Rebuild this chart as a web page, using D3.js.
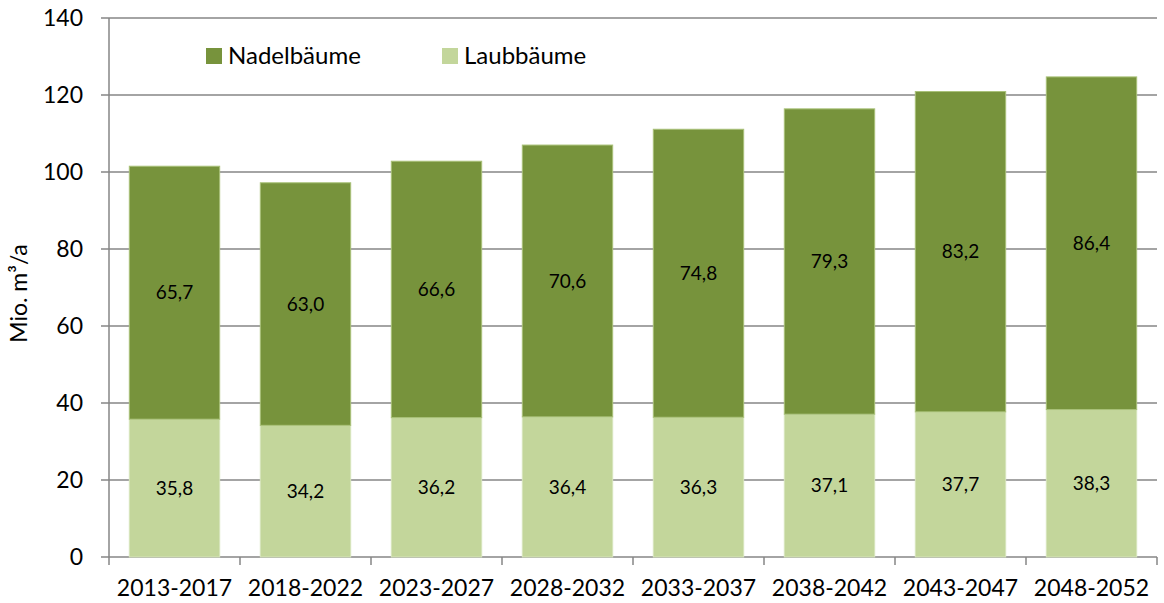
<!DOCTYPE html>
<html>
<head>
<meta charset="utf-8">
<script src="https://cdn.jsdelivr.net/npm/d3@7"></script>
<style>
  body { margin: 0; background: #fff; }
  text { font-family: Lato, 'Open Sans', sans-serif; fill: #000; }
</style>
</head>
<body>
<div id="chart"></div>
<script>
// data
var periods = ['2013-2017', '2018-2022', '2023-2027', '2028-2032', '2033-2037', '2038-2042', '2043-2047', '2048-2052']
var laubbaeume = [35.8, 34.2, 36.2, 36.4, 36.3, 37.1, 37.7, 38.3]
var nadelbaeume = [65.7, 63.0, 66.6, 70.6, 74.8, 79.3, 83.2, 86.4]
var yTicks = [0, 20, 40, 60, 80, 100, 120, 140]
var seriesNames = ['Nadelbäume', 'Laubbäume']
var colors = { 'Nadelbäume': '#77933c', 'Laubbäume': '#c3d69b' }

var margin = { top: 18, left: 109, right: 7, bottom: 46 }
var width = 1164 - margin.left - margin.right
var height = 603 - margin.top - margin.bottom

var svg = d3.select('#chart')
  .append('svg')
  .attr('width', 1164)
  .attr('height', 603)
  .append('g')
  .attr('transform', 'translate(' + margin.left + ',' + margin.top + ')')

var xPositionScale = d3.scaleBand()
  .domain(periods)
  .range([0, width])
  .paddingInner(0.31)
  .paddingOuter(0.155)

var yPositionScale = d3.scaleLinear()
  .domain([0, 140])
  .range([height, 0])

// gridlines
svg.selectAll('.grid')
  .data(yTicks)
  .enter()
  .append('line')
  .attr('class', 'grid')
  .attr('x1', -8)
  .attr('x2', width)
  .attr('y1', d => yPositionScale(d))
  .attr('y2', d => yPositionScale(d))
  .attr('stroke', '#868686')
  .attr('stroke-width', 1.5)

// y tick labels
svg.selectAll('.ylabel')
  .data(yTicks)
  .enter()
  .append('text')
  .attr('x', -26)
  .attr('y', d => yPositionScale(d))
  .attr('dy', '0.35em')
  .attr('text-anchor', 'end')
  .attr('font-size', 23)
  .text(d => d)

// stacked data
var rows = periods.map(function (p, i) {
  return { period: p, 'Laubbäume': laubbaeume[i], 'Nadelbäume': nadelbaeume[i] }
})
var stack = d3.stack().keys(['Laubbäume', 'Nadelbäume'])
var stacked = stack(rows)

var layers = svg.selectAll('.layer')
  .data(stacked)
  .enter()
  .append('g')
  .attr('class', 'layer')

layers.selectAll('rect')
  .data(d => d.map(v => ({ key: d.key, v: v })))
  .enter()
  .append('rect')
  .attr('x', d => xPositionScale(d.v.data.period))
  .attr('width', xPositionScale.bandwidth())
  .attr('y', d => yPositionScale(d.v[1]))
  .attr('height', d => yPositionScale(d.v[0]) - yPositionScale(d.v[1]))
  .attr('fill', d => colors[d.key])
  .attr('stroke', d => d.key === 'Nadelbäume' ? '#a9c178' : '#d6e4bb')
  .attr('stroke-width', 1)

layers.selectAll('.val')
  .data(d => d.map(v => ({ key: d.key, v: v })))
  .enter()
  .append('text')
  .attr('class', 'val')
  .attr('x', d => xPositionScale(d.v.data.period) + xPositionScale.bandwidth() / 2)
  .attr('y', d => yPositionScale((d.v[0] + d.v[1]) / 2))
  .attr('dy', '0.35em')
  .attr('text-anchor', 'middle')
  .attr('font-size', 19)
  .text(d => d.v.data[d.key].toFixed(1).replace('.', ','))

// y axis line
svg.append('line')
  .attr('x1', 0).attr('x2', 0)
  .attr('y1', 0).attr('y2', height)
  .attr('stroke', '#868686')
  .attr('stroke-width', 1.5)

// x axis ticks
var boundaries = periods.map(p => xPositionScale(p) - xPositionScale.step() * xPositionScale.paddingOuter())
boundaries.push(width)
svg.selectAll('.xtick')
  .data(boundaries)
  .enter()
  .append('line')
  .attr('x1', d => d).attr('x2', d => d)
  .attr('y1', height).attr('y2', height + 8)
  .attr('stroke', '#868686')
  .attr('stroke-width', 1.5)

svg.selectAll('.xlabel')
  .data(periods)
  .enter()
  .append('text')
  .attr('x', d => xPositionScale(d) + xPositionScale.bandwidth() / 2)
  .attr('y', height + 39)
  .attr('text-anchor', 'middle')
  .attr('font-size', 23)
  .text(d => d)

// y axis title
svg.append('text')
  .attr('transform', 'translate(-82,' + (height / 2 + 6) + ') rotate(-90)')
  .attr('text-anchor', 'middle')
  .attr('font-size', 23)
  .text('Mio. m³/a')

// legend
var legend = svg.selectAll('.legend')
  .data(seriesNames)
  .enter()
  .append('g')
  .attr('class', 'legend')
  .attr('transform', (d, i) => 'translate(' + (97 + i * 236) + ',30)')

legend.append('rect')
  .attr('x', 0).attr('y', 0)
  .attr('width', 16).attr('height', 16)
  .attr('fill', d => colors[d])

legend.append('text')
  .attr('x', 22)
  .attr('y', 8)
  .attr('dy', '0.35em')
  .attr('font-size', 24)
  .text(d => d)
</script>
</body>
</html>
